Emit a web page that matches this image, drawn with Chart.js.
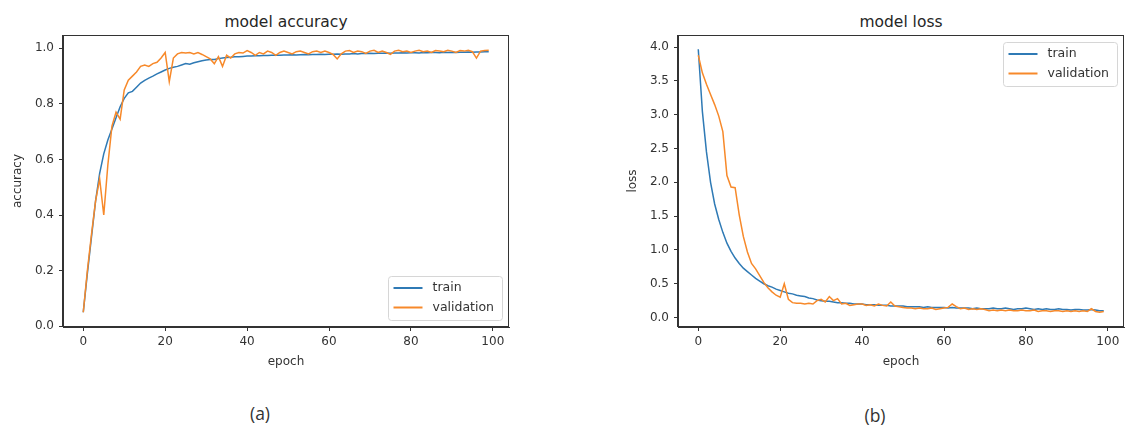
<!DOCTYPE html>
<html>
<head>
<meta charset="utf-8">
<script src="https://cdn.jsdelivr.net/npm/chart.js@4/dist/chart.umd.min.js"></script>
<style>
  html, body { margin: 0; padding: 0; background: #ffffff; width: 1126px; height: 428px; overflow: hidden; }
  body { position: relative; font-family: "DejaVu Sans", sans-serif; }
  .cv { position: absolute; top: 0; height: 380px; }
  #accCanvas { left: 0; width: 560px; }
  #lossCanvas { left: 615px; width: 511px; }
  .ttl { position: absolute; top: 13px; font-size: 15.5px; line-height: 18px; color: #262626; transform: translateX(-50%); white-space: nowrap; }
  .cap { position: absolute; font-family: "Open Sans", sans-serif; font-size: 17.5px; line-height: 22px; color: #333; transform: translateX(-50%); white-space: nowrap; }
</style>
</head>
<body>
<div class="ttl" style="left:286px">model accuracy</div>
<div class="ttl" style="left:901px">model loss</div>
<canvas id="accCanvas" class="cv" width="560" height="380"></canvas>
<canvas id="lossCanvas" class="cv" width="511" height="380"></canvas>
<div class="cap" style="left:260px; top:402px">(a)</div>
<div class="cap" style="left:875px; top:404px">(b)</div>
<script>
// ---------- data ----------
const epochs = [0,1,2,3,4,5,6,7,8,9,10,11,12,13,14,15,16,17,18,19,20,21,22,23,24,25,26,27,28,29,30,31,32,33,34,35,36,37,38,39,40,41,42,43,44,45,46,47,48,49,50,51,52,53,54,55,56,57,58,59,60,61,62,63,64,65,66,67,68,69,70,71,72,73,74,75,76,77,78,79,80,81,82,83,84,85,86,87,88,89,90,91,92,93,94,95,96,97,98,99];

const trainAcc = [
  0.05, 0.19, 0.32, 0.45, 0.55, 0.62, 0.67, 0.71, 0.75, 0.79,
  0.82, 0.84, 0.845, 0.86, 0.875, 0.885, 0.893, 0.90, 0.908, 0.915,
  0.922, 0.928, 0.932, 0.935, 0.94, 0.945, 0.943, 0.948, 0.952, 0.955,
  0.958, 0.96, 0.96, 0.963, 0.965, 0.967, 0.968, 0.97, 0.97, 0.971,
  0.972, 0.972, 0.973, 0.973, 0.974, 0.974, 0.975, 0.975, 0.975, 0.976,
  0.976, 0.977, 0.976, 0.977, 0.978, 0.977, 0.978, 0.978, 0.979, 0.978,
  0.979, 0.979, 0.98, 0.979, 0.98, 0.98, 0.981, 0.98, 0.981, 0.981,
  0.982, 0.981, 0.982, 0.982, 0.983, 0.982, 0.983, 0.983, 0.984, 0.983,
  0.984, 0.984, 0.983, 0.985, 0.984, 0.985, 0.985, 0.984, 0.986, 0.985,
  0.986, 0.985, 0.986, 0.986, 0.987, 0.986, 0.987, 0.987, 0.988, 0.988
];
const valAcc = [
  0.05, 0.2, 0.33, 0.45, 0.53, 0.40, 0.58, 0.72, 0.77, 0.745,
  0.85, 0.885, 0.90, 0.915, 0.935, 0.94, 0.935, 0.945, 0.95, 0.965,
  0.985, 0.88, 0.965, 0.98, 0.985, 0.983, 0.985, 0.98, 0.985, 0.978,
  0.97, 0.962, 0.945, 0.97, 0.935, 0.975, 0.965, 0.98, 0.985, 0.983,
  0.992, 0.985, 0.975, 0.985, 0.98, 0.99, 0.985, 0.975, 0.985, 0.99,
  0.985, 0.98, 0.988, 0.99, 0.985, 0.98, 0.988, 0.99, 0.985, 0.99,
  0.985, 0.978, 0.962, 0.98, 0.99, 0.992, 0.985, 0.99, 0.988, 0.982,
  0.99, 0.993, 0.985, 0.99, 0.985, 0.978, 0.99, 0.993, 0.988, 0.99,
  0.985, 0.99, 0.993, 0.988, 0.99, 0.985, 0.992, 0.99, 0.988, 0.993,
  0.99, 0.985, 0.992, 0.99, 0.993, 0.988, 0.965, 0.99, 0.992, 0.993
];
const trainLoss = [
  3.97, 3.05, 2.45, 2.0, 1.68, 1.45, 1.26, 1.1, 0.98, 0.88,
  0.8, 0.73, 0.68, 0.63, 0.58, 0.54, 0.5, 0.47, 0.45, 0.42,
  0.4, 0.38, 0.36, 0.35, 0.33, 0.32, 0.31, 0.29, 0.28, 0.26,
  0.25, 0.24, 0.24, 0.23, 0.22, 0.22, 0.21, 0.21, 0.2, 0.2,
  0.2, 0.19, 0.19, 0.19, 0.18, 0.18, 0.18, 0.17, 0.17, 0.17,
  0.17, 0.16, 0.16, 0.16, 0.16, 0.15, 0.16, 0.15, 0.15, 0.15,
  0.15, 0.14, 0.15, 0.14, 0.14, 0.14, 0.14, 0.13, 0.14, 0.13,
  0.13, 0.13, 0.14, 0.13, 0.13, 0.14, 0.13, 0.12, 0.13, 0.13,
  0.14, 0.13, 0.12, 0.13, 0.12, 0.13, 0.12, 0.12, 0.13, 0.12,
  0.12, 0.11, 0.12, 0.12, 0.11, 0.11, 0.12, 0.11, 0.1, 0.1
];
const valLoss = [
  3.88, 3.62, 3.45, 3.3, 3.15, 2.98, 2.75, 2.1, 1.93, 1.92,
  1.52, 1.2, 0.97, 0.8, 0.72, 0.62, 0.52, 0.44, 0.38, 0.33,
  0.3, 0.5, 0.27, 0.22, 0.21, 0.21, 0.2, 0.21, 0.2, 0.25,
  0.27, 0.23, 0.31, 0.25, 0.28, 0.2, 0.21, 0.18, 0.19, 0.2,
  0.2, 0.18, 0.19, 0.17, 0.2, 0.18, 0.17, 0.23, 0.17, 0.16,
  0.15, 0.14, 0.14, 0.13, 0.14, 0.13, 0.13, 0.14, 0.12, 0.13,
  0.14, 0.15, 0.2, 0.16, 0.13, 0.14, 0.12, 0.13, 0.12, 0.13,
  0.12, 0.1, 0.11, 0.1, 0.11, 0.1, 0.11, 0.1, 0.1, 0.11,
  0.1, 0.1, 0.11, 0.09, 0.1, 0.1, 0.09, 0.1, 0.1, 0.09,
  0.1, 0.09, 0.1, 0.09, 0.1, 0.09, 0.13, 0.09, 0.08, 0.09
];

const seriesNames = ['train', 'validation'];
const xTicks = [0, 20, 40, 60, 80, 100];
const accTicks = [0.0, 0.2, 0.4, 0.6, 0.8, 1.0];
const lossTicks = [0.0, 0.5, 1.0, 1.5, 2.0, 2.5, 3.0, 3.5, 4.0];

// ---------- styling / helpers ----------
const BLUE = '#2f7ab5';
const ORANGE = '#f7892a';
const INK = '#333333';
const FONT = 'DejaVu Sans';

function pts(values) { return epochs.map((e, i) => ({ x: e, y: values[i] })); }

const frame = {
  id: 'frame',
  afterDatasetsDraw(chart) {
    const { ctx, chartArea: a } = chart;
    ctx.save();
    ctx.strokeStyle = INK;
    ctx.lineWidth = 1;
    ctx.strokeRect(Math.round(a.left) - 0.5, Math.round(a.top) + 0.5,
                   Math.round(a.right) - Math.round(a.left), Math.round(a.bottom) - Math.round(a.top) - 1);
    ctx.restore();
  }
};

const mplLegend = {
  id: 'mplLegend',
  afterDraw(chart, args, opts) {
    const { ctx, chartArea: a } = chart;
    const ds = chart.data.datasets;
    const inset = 7, w = 114, h = 44, r = 3;
    const x = Math.round(a.right - inset - w) + 0.5;
    const y = Math.round(opts.loc === 'lower right' ? a.bottom - inset - h : a.top + inset) + 0.5;
    ctx.save();
    ctx.beginPath();
    ctx.moveTo(x + r, y);
    ctx.lineTo(x + w - r, y); ctx.quadraticCurveTo(x + w, y, x + w, y + r);
    ctx.lineTo(x + w, y + h - r); ctx.quadraticCurveTo(x + w, y + h, x + w - r, y + h);
    ctx.lineTo(x + r, y + h); ctx.quadraticCurveTo(x, y + h, x, y + h - r);
    ctx.lineTo(x, y + r); ctx.quadraticCurveTo(x, y, x + r, y);
    ctx.closePath();
    ctx.fillStyle = 'rgba(255,255,255,0.8)';
    ctx.fill();
    ctx.strokeStyle = '#d6d6d6';
    ctx.lineWidth = 1;
    ctx.stroke();
    ctx.font = '12.5px "' + FONT + '"';
    ctx.textBaseline = 'middle';
    ctx.textAlign = 'left';
    ds.forEach((d, i) => {
      const cy = y + 11.5 + i * 19.5;
      ctx.strokeStyle = d.borderColor;
      ctx.lineWidth = 2;
      ctx.beginPath();
      ctx.moveTo(x + 5, cy);
      ctx.lineTo(x + 34, cy);
      ctx.stroke();
      ctx.fillStyle = INK;
      ctx.fillText(d.label, x + 44, cy);
    });
    ctx.restore();
  }
};

function axisCommon() {
  return {
    grid: { display: true, drawOnChartArea: false, drawTicks: true, tickLength: 4, color: INK, lineWidth: 1 },
    border: { display: true, color: INK, width: 1 }
  };
}

function makeChart(id, trainVals, valVals, yTicks, yMin, yMax, yTitle, legendLoc) {
  return new Chart(document.getElementById(id), {
    type: 'line',
    data: {
      datasets: [
        { label: seriesNames[0], data: pts(trainVals), borderColor: BLUE, backgroundColor: BLUE,
          borderWidth: 1.5, pointRadius: 0, tension: 0, fill: false, order: 1 },
        { label: seriesNames[1], data: pts(valVals), borderColor: ORANGE, backgroundColor: ORANGE,
          borderWidth: 1.5, pointRadius: 0, tension: 0, fill: false, order: 0 }
      ]
    },
    options: {
      responsive: false,
      animation: false,
      devicePixelRatio: 1,
      layout: { padding: { left: 0, top: 35, right: (id === 'accCanvas' ? 51 : 2), bottom: 0 } },
      plugins: {
        legend: { display: false },
        tooltip: { enabled: false },
        title: { display: false },
        mplLegend: { loc: legendLoc }
      },
      scales: {
        x: Object.assign(axisCommon(), {
          type: 'linear', min: -4.95, max: 103.95,
          afterBuildTicks: s => { s.ticks = xTicks.map(v => ({ value: v })); },
          afterFit: s => { s.height = 53; },
          ticks: { color: INK, font: { family: FONT, size: 12 }, padding: 4, maxRotation: 0, autoSkip: false,
                   callback: v => String(v) },
          title: { display: true, text: 'epoch', color: INK, font: { family: FONT, size: 12 },
                   padding: { top: 0, bottom: 10.8 } }
        }),
        y: Object.assign(axisCommon(), {
          type: 'linear', min: yMin, max: yMax,
          afterBuildTicks: s => { s.ticks = yTicks.map(v => ({ value: v })); },
          afterFit: s => { s.width = 63; },
          ticks: { color: INK, font: { family: FONT, size: 12 }, padding: 5, autoSkip: false,
                   callback: v => Number(v).toFixed(1) },
          title: { display: true, text: yTitle, color: INK, font: { family: FONT, size: 12 },
                   padding: { top: 10.8, bottom: 0 } }
        })
      }
    },
    plugins: [frame, mplLegend]
  });
}

makeChart('accCanvas', trainAcc, valAcc, accTicks, -0.003, 1.048, 'accuracy', 'lower right');
makeChart('lossCanvas', trainLoss, valLoss, lossTicks, -0.14, 4.18, 'loss', 'upper right');
</script>
</body>
</html>
